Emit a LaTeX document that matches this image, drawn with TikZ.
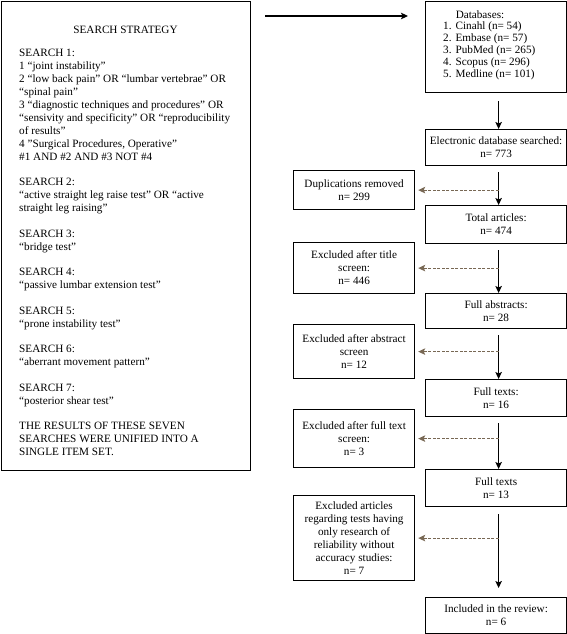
\documentclass[tikz,border=0pt]{standalone}
\usepackage{fontspec}
\setmainfont{Liberation Serif}
\usetikzlibrary{arrows.meta,calc}
\definecolor{dashc}{RGB}{120,104,84}
\begin{document}
\begin{tikzpicture}[x=1pt,y=-1pt,
  txt/.style={inner sep=0pt, font=\fontsize{11.2}{13}\selectfont},
  box/.style={draw, line width=1.2pt, inner sep=0pt, align=center, anchor=north west, font=\fontsize{11.2}{13}\selectfont},
  rbox/.style={box, minimum width=141pt},
  lbox/.style={box, minimum width=121pt},
  arr/.style={line width=1.1pt, -{Stealth[length=7pt,width=6.5pt,inset=1.5pt]}},
  dasharr/.style={line width=1.2pt, dashc, dash pattern=on 3pt off 1.5pt, -{Stealth[length=7pt,width=6.5pt,inset=1.5pt]}, shorten >=3pt}]
\useasboundingbox (0,0) rectangle (567,634);

% search strategy box
\node[box, minimum width=249pt, minimum height=469pt] (strat) at (1,1) {};
\node[txt] (title) at (125.5,30) {SEARCH STRATEGY};
\node[txt, anchor=north west, align=left, font=\fontsize{11.2}{12.9}\selectfont] (stxt) at (19,49.3) {%
SEARCH 1:\\
1 “joint instability”\\
2 “low back pain” OR “lumbar vertebrae” OR\\
“spinal pain”\\
3 “diagnostic techniques and procedures” OR\\
“sensivity and specificity” OR “reproducibility\\
of results”\\
4 "Surgical Procedures, Operative"\\
\#1 AND \#2 AND \#3 NOT \#4\\[12.7pt]
SEARCH 2:\\
“active straight leg raise test” OR “active\\
straight leg raising”\\[12.7pt]
SEARCH 3:\\
“bridge test”\\[12.7pt]
SEARCH 4:\\
“passive lumbar extension test”\\[12.7pt]
SEARCH 5:\\
“prone instability test”\\[12.7pt]
SEARCH 6:\\
“aberrant movement pattern”\\[12.7pt]
SEARCH 7:\\
“posterior shear test”\\[12.7pt]
THE RESULTS OF THESE SEVEN\\
SEARCHES WERE UNIFIED INTO A\\
SINGLE ITEM SET.};

% top arrow
\coordinate (a1) at (265,16);
\coordinate (a2) at (408,16);
\draw[arr] (a1) -- (a2);

% databases
\node[rbox, minimum height=91pt] (db) at (425,1) {};
\node[txt] (dbt) at (480,15) {Databases:};
\node[txt, anchor=north west, align=left, font=\fontsize{11.2}{12}\selectfont] (dbl) at (443,21.5) {%
1.\hspace{4pt}Cinahl (n= 54)\\
2.\hspace{4pt}Embase (n= 57)\\
3.\hspace{4pt}PubMed (n= 265)\\
4.\hspace{4pt}Scopus (n= 296)\\
5.\hspace{4pt}Medline (n= 101)};

% main column
\node[rbox, minimum height=36pt] (elec) at (425,129) {Electronic database searched:\\ n= 773};
\node[rbox, minimum height=38pt] (total) at (425,205) {Total articles:\\ n= 474};
\node[rbox, minimum height=35pt] (abs) at (425,293) {Full abstracts:\\ n= 28};
\node[rbox, minimum height=37pt] (ft16) at (425,379) {Full texts:\\ n= 16};
\node[rbox, minimum height=37pt] (ft13) at (425,469) {Full texts\\ n= 13};
\node[rbox, minimum height=36pt] (incl) at (425,597) {Included in the review:\\ n= 6};

% excluded column
\node[lbox, minimum height=39pt] (dup) at (293,170) {Duplications removed\\ n= 299};
\node[lbox, minimum height=51pt] (titx) at (293,242) {Excluded after title\\ screen:\\ n= 446};
\node[lbox, minimum height=54pt] (absx) at (293,324) {Excluded after abstract\\ screen\\ n= 12};
\node[lbox, minimum height=58pt] (ftx) at (293,409) {Excluded after full text\\ screen:\\ n= 3};
\node[lbox, minimum height=85pt] (artx) at (293,495) {Excluded articles\\ regarding tests having\\ only research of\\ reliability without\\ accuracy studies:\\ n= 7};

% flow column line
\coordinate (col) at ([xshift=2.5pt]elec.south);

% vertical arrows
\draw[arr, shorten <=8pt] ([xshift=2.5pt]db.south) -- ([xshift=2.5pt]elec.north);
\draw[arr, shorten <=6pt] ([xshift=2.5pt]elec.south) -- ([xshift=2.5pt]total.north);
\draw[arr, shorten <=6pt] ([xshift=2.5pt]total.south) -- ([xshift=2.5pt]abs.north);
\draw[arr, shorten <=6pt] ([xshift=2.5pt]abs.south) -- ([xshift=2.5pt]ft16.north);
\draw[arr, shorten <=6pt] ([xshift=2.5pt]ft16.south) -- ([xshift=2.5pt]ft13.north);
\draw[arr, shorten <=7pt, shorten >=9pt] ([xshift=2.5pt]ft13.south) -- ([xshift=2.5pt]incl.north);

% dashed arrows
\draw[dasharr] (dup.east -| col) -- (dup.east);
\draw[dasharr] (titx.east -| col) -- (titx.east);
\draw[dasharr] (absx.east -| col) -- (absx.east);
\draw[dasharr] (ftx.east -| col) -- (ftx.east);
\draw[dasharr] (artx.east -| col) -- (artx.east);
\end{tikzpicture}
\end{document}
